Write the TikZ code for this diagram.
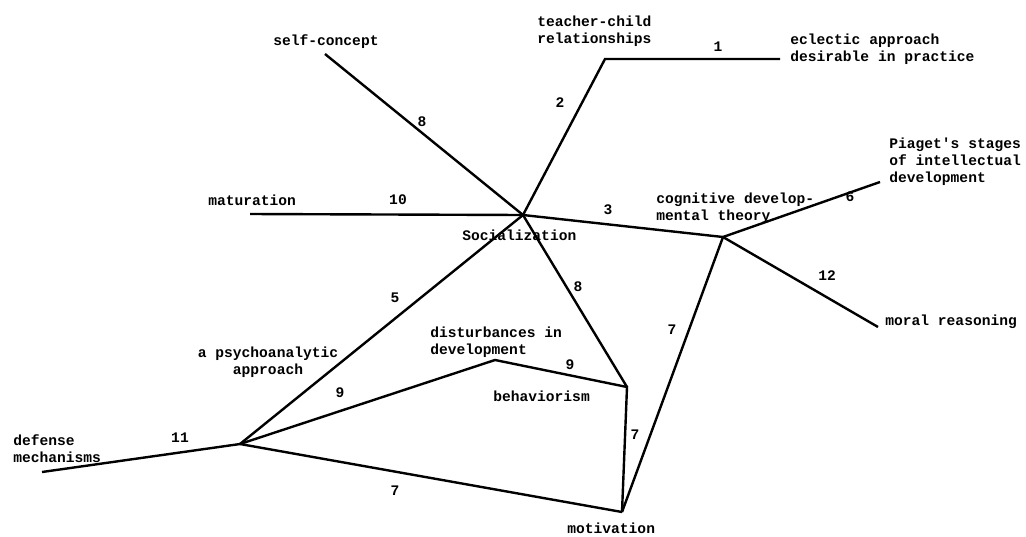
\documentclass[tikz,border=0pt]{standalone}
\usepackage{fontspec}
\newfontfamily\scanfont{Liberation Mono}
\usepackage{tikz}

\begin{document}
\begin{tikzpicture}[
        x=0.5pt, y=-0.5pt,
        term/.style={font=\scanfont\bfseries\fontsize{7.3}{8.6}\selectfont, inner sep=0pt, anchor=west, align=left},
        num/.style={font=\scanfont\bfseries\fontsize{7.3}{8.6}\selectfont, inner sep=0pt},
        link/.style={line width=1.2pt, black},
    ]
        \useasboundingbox (0,0) rectangle (1026,536);

        % Vertices
        \coordinate (soc) at (523,215);
        \coordinate (cog) at (723,237);
        \coordinate (psy) at (240,444);
        \coordinate (dist) at (495,360);
        \coordinate (beh) at (627,387);
        \coordinate (mot) at (622,512);

        % Free ends
        \coordinate (selfend) at (325,54);
        \coordinate (tcorner) at (605,59);
        \coordinate (eclend) at (780,59);
        \coordinate (matend) at (250,214);
        \coordinate (piagend) at (880,182);
        \coordinate (moralend) at (878,327);
        \coordinate (defend) at (42,472);

        % Terms
        \node[term] (self) at (273,42) {self-concept};
        \node[term] (teach) at (537,31) {teacher-child\\relationships};
        \node[term] (eclec) at (790,49) {eclectic approach\\desirable in practice};
        \node[term] (matur) at (208,200) {maturation};
        \node[term] (social) at (462,235) {Socialization};
        \node[term] (cogn) at (656,208) {cognitive develop-\\mental theory};
        \node[term] (piag) at (889,162) {Piaget's stages\\of intellectual\\development};
        \node[term] (moral) at (885,322) {moral reasoning};
        \node[term] (disturb) at (430,342) {disturbances in\\development};
        \node[term] (behav) at (493,396) {behaviorism};
        \node[term] (motiv) at (567,528) {motivation};
        \node[term, anchor=center, align=center] (psycho) at (268,362) {a psychoanalytic\\approach};
        \node[term] (defen) at (13,449) {defense\\mechanisms};

        % Links from socialization
        \draw[link] (selfend) -- (soc);
        \draw[link] (soc) -- (tcorner) -- (eclend);
        \draw[link] (matend) -- (soc);
        \draw[link] (soc) -- (cog);
        \draw[link] (soc) -- (beh);
        \draw[link] (soc) -- (psy);

        % Links from cognitive developmental theory
        \draw[link] (cog) -- (piagend);
        \draw[link] (cog) -- (moralend);
        \draw[link] (cog) -- (mot);

        % Links from psychoanalytic approach
        \draw[link] (defend) -- (psy);
        \draw[link] (psy) -- (dist) -- (beh) -- (mot);
        \draw[link] (psy) -- (mot);

        % Link numbers
        \node[num] (n1) at (718,47) {1};
        \node[num] (n2) at (560,103) {2};
        \node[num] (n8a) at (422,122) {8};
        \node[num] (n10) at (398,200) {10};
        \node[num] (n3) at (608,210) {3};
        \node[num] (n6) at (850,197) {6};
        \node[num] (n12) at (827,276) {12};
        \node[num] (n5) at (395,298) {5};
        \node[num] (n8b) at (578,287) {8};
        \node[num] (n9a) at (340,393) {9};
        \node[num] (n9b) at (570,365) {9};
        \node[num] (n7a) at (672,330) {7};
        \node[num] (n7b) at (635,435) {7};
        \node[num] (n11) at (180,438) {11};
        \node[num] (n7c) at (395,491) {7};

    \end{tikzpicture}
\end{document}
